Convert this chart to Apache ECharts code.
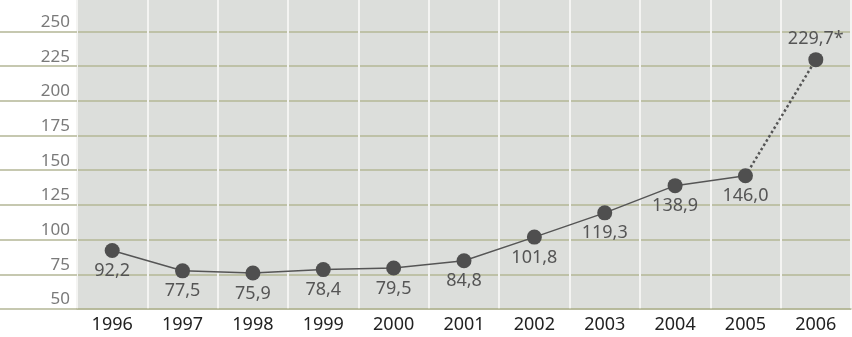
<!DOCTYPE html>
<html>
  <head>
    <meta charset="UTF-8" />
    <title>line 1996-2006</title>
    <script src="https://cdn.jsdelivr.net/npm/echarts@6/dist/echarts.min.js"></script>
    <style>
      html, body { margin: 0; padding: 0; background: #fff; }
      #chart { width: 852px; height: 337px; }
    </style>
  </head>
  <body>
    <div id="chart"></div>
    <script>
      // data
      var years = ['1996', '1997', '1998', '1999', '2000', '2001', '2002', '2003', '2004', '2005', '2006'];
      var values = [92.2, 77.5, 75.9, 78.4, 79.5, 84.8, 101.8, 119.3, 138.9, 146.0];
      var estimate = 229.7; // 2006, dotted
      var topLabel = 250; // highest tick label shown

      var fmt = function (v) {
        return v.toFixed(1).replace('.', ',');
      };

      // solid part: 1996-2005
      var solidData = values.slice();
      solidData.push(null);

      // dotted part: 2005 -> 2006
      var dottedData = years.map(function () { return null; });
      dottedData[values.length - 1] = { value: values[values.length - 1], symbol: 'none', label: { show: false } };
      dottedData[years.length - 1] = estimate;

      var chart = echarts.init(document.getElementById('chart'));
      var font = 'Noto Sans';

      var option = {
        animation: false,
        grid: {
          left: 77,
          right: 1,
          top: -6, // ticks above 250 fall off the canvas
          bottom: 28,
          outerBoundsMode: 'none',
          show: true,
          backgroundColor: '#dcdedb',
          borderWidth: 0
        },
        xAxis: {
          type: 'category',
          data: years,
          boundaryGap: true,
          axisLine: { show: true, lineStyle: { color: '#b4b796', width: 1.5 } },
          axisTick: { show: false },
          axisLabel: { color: '#222', fontSize: 18, fontFamily: font, margin: 7 },
          splitLine: { show: true, lineStyle: { color: '#f4f4f2', width: 2 } }
        },
        yAxis: {
          type: 'value',
          min: 50,
          max: 277,
          interval: 25,
          axisLine: { show: false },
          axisTick: { show: true, length: 77, lineStyle: { color: '#b4b796', width: 1.5 } },
          axisLabel: {
            color: '#7a7a7a',
            fontSize: 17,
            fontFamily: font,
            margin: 7,
            verticalAlign: 'bottom',
            padding: [0, 0, 1, 0],
            showMaxLabel: false,
            formatter: function (v) { return v > topLabel ? '' : String(v); }
          },
          splitLine: { show: true, lineStyle: { color: '#b4b796', width: 1.5 } }
        },
        series: [
          {
            name: 'solid',
            type: 'line',
            data: solidData,
            symbol: 'circle',
            symbolSize: 15,
            itemStyle: { color: '#4f4f4f' },
            lineStyle: { color: '#555', width: 1.5 },
            label: {
              show: true,
              position: 'bottom',
              distance: 4,
              color: '#555',
              fontSize: 18,
              fontFamily: font,
              formatter: function (p) { return fmt(p.value); }
            },
            z: 3
          },
          {
            name: 'dotted',
            type: 'line',
            data: dottedData,
            symbol: 'circle',
            symbolSize: 15,
            itemStyle: { color: '#4f4f4f' },
            lineStyle: { color: '#555', width: 2.5, type: 'dotted' },
            label: {
              show: true,
              position: 'top',
              distance: 4,
              color: '#555',
              fontSize: 18,
              fontFamily: font,
              formatter: function (p) { return fmt(p.value) + '*'; }
            },
            z: 2
          }
        ]
      };

      chart.setOption(option);
    </script>
  </body>
</html>
